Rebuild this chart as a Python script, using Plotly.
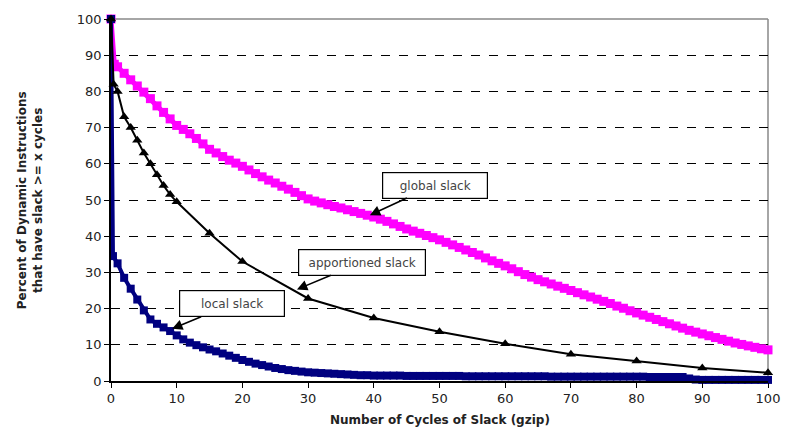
import plotly.graph_objects as go

# ---------------- data ----------------
global_x = [0, 0.5] + list(range(1, 101))
global_y = [100, 87.5,
            86.8, 85.0, 83.2, 81.5, 79.8, 78.0, 76.0, 74.2, 72.4, 70.6,
            69.5, 68.3, 67.0, 65.5, 64.0, 63.0, 62.0, 61.0, 60.2, 59.3,
            58.3, 57.3, 56.4, 55.5, 54.7, 53.8, 53.0, 52.1, 51.2, 50.3,
            49.7, 49.2, 48.7, 48.2, 47.8, 47.3, 46.8, 46.3, 45.8, 45.3,
            44.7, 44.1, 43.4, 42.7, 42.0, 41.4, 40.8, 40.2, 39.6, 39.0,
            38.3, 37.6, 36.9, 36.2, 35.5, 34.8, 34.0, 33.2, 32.5, 31.8,
            31.0, 30.2, 29.4, 28.7, 28.0, 27.4, 26.8, 26.2, 25.6, 25.0,
            24.4, 23.8, 23.2, 22.6, 22.0, 21.4, 20.7, 20.1, 19.4, 18.8,
            18.2, 17.6, 17.0, 16.4, 15.8, 15.2, 14.6, 14.0, 13.5, 13.0,
            12.5, 12.0, 11.5, 11.0, 10.5, 10.1, 9.7, 9.3, 8.9, 8.6]

appor_x = [0, 0.4, 1, 2, 3, 4, 5, 6, 7, 8, 9, 10, 15, 20, 30, 40, 50, 60, 70, 80, 90, 100]
appor_y = [100, 82, 80, 73, 70, 66.5, 63, 60, 57, 54, 51.5, 49.5, 40.8, 33, 22.8,
           17.4, 13.6, 10.3, 7.4, 5.5, 3.6, 2.3]

local_x = [0, 0.3] + list(range(1, 101))
local_y = [100, 34.5,
           32.5, 28.5, 25.5, 22.5, 19.5, 17.0, 15.8, 14.8, 13.8, 12.6,
           11.5, 10.6, 9.9, 9.3, 8.7, 8.2, 7.6, 7.0, 6.4, 5.8,
           5.3, 4.8, 4.4, 4.0, 3.6, 3.3, 3.0, 2.8, 2.6, 2.4,
           2.3, 2.2, 2.1, 2.0, 1.9, 1.8, 1.7, 1.6, 1.6, 1.5,
           1.5, 1.5, 1.5, 1.5, 1.4, 1.4, 1.4, 1.4, 1.4, 1.4,
           1.4, 1.4, 1.4, 1.3, 1.3, 1.3, 1.3, 1.3, 1.3, 1.3,
           1.3, 1.3, 1.3, 1.3, 1.3, 1.3, 1.2, 1.2, 1.2, 1.2,
           1.2, 1.2, 1.2, 1.2, 1.2, 1.2, 1.2, 1.2, 1.2, 1.2,
           1.2, 1.1, 1.1, 1.1, 1.1, 1.1, 1.1, 0.7, 0.4, 0.3,
           0.3, 0.3, 0.3, 0.3, 0.3, 0.3, 0.3, 0.3, 0.3, 0.3]

x_ticks = list(range(0, 101, 10))
y_ticks = list(range(0, 101, 10))

labels = ["global slack", "apportioned slack", "local slack"]
label_tips = [(39.4, 45.8), (28.3, 25.3), (9.3, 14.4)]

FONT = "DejaVu Sans"

fig = go.Figure()

fig.add_trace(go.Scatter(
    x=global_x, y=global_y, mode="lines+markers",
    line=dict(color="#FF00FF", width=5),
    marker=dict(symbol="square", size=9, color="#FF00FF"),
    cliponaxis=False, showlegend=False))

fig.add_trace(go.Scatter(
    x=local_x, y=local_y, mode="lines+markers",
    line=dict(color="#000080", width=4),
    marker=dict(symbol="square", size=8, color="#000080"),
    cliponaxis=False, showlegend=False))

fig.add_trace(go.Scatter(
    x=appor_x, y=appor_y, mode="lines+markers",
    line=dict(color="#000000", width=2),
    marker=dict(symbol="triangle-up", size=9, color="#000000"),
    cliponaxis=False, showlegend=False))

annotations = []
offsets = [(65, -30), (65, -27), (60, -25)]
widths = [98, 120, 98]
for lab, (tx, ty), (ax, ay), w in zip(labels, label_tips, offsets, widths):
    annotations.append(dict(
        x=tx, y=ty, xref="x", yref="y", text=lab, showarrow=True,
        ax=ax, ay=ay, axref="pixel", ayref="pixel",
        arrowhead=2, arrowsize=1.3, arrowwidth=1.6, arrowcolor="#000000",
        bgcolor="#FFFFFF", bordercolor="#000000", borderwidth=1.2,
        borderpad=3, width=w, height=19,
        font=dict(family=FONT, size=12, color="#444444")))

annotations.append(dict(
    text="<b>Percent of Dynamic Instructions<br>that have slack >= x cycles</b>",
    xref="paper", yref="paper", x=-0.123, y=0.5, textangle=-90,
    showarrow=False, xanchor="center", yanchor="middle",
    font=dict(family=FONT, size=12, color="#222222")))
annotations.append(dict(
    text="<b>Number of Cycles of Slack (gzip)</b>",
    xref="paper", yref="paper", x=0.5, y=-0.108,
    showarrow=False, xanchor="center", yanchor="middle",
    font=dict(family=FONT, size=12, color="#222222")))

fig.update_layout(
    width=792, height=446,
    margin=dict(l=111, r=24, t=14, b=65),
    paper_bgcolor="#FFFFFF", plot_bgcolor="#FFFFFF",
    font=dict(family=FONT, color="#222222"),
    annotations=annotations,
    shapes=[
        dict(type="line", xref="paper", yref="paper", x0=0, x1=1, y0=1, y1=1,
             line=dict(color="#888888", width=1.5), layer="between"),
        dict(type="line", xref="paper", yref="paper", x0=1, x1=1, y0=0, y1=1,
             line=dict(color="#888888", width=1.5), layer="between"),
    ],
    xaxis=dict(range=[0, 100], tickvals=x_ticks, ticktext=[str(v) for v in x_ticks],
               showgrid=False, zeroline=False, showline=True, linecolor="#000000",
               linewidth=1.5, ticks="outside", ticklen=5, tickcolor="#000000",
               tickfont=dict(family=FONT, size=13, color="#222222")),
    yaxis=dict(range=[0, 100], tickvals=y_ticks, ticktext=[str(v) for v in y_ticks],
               showgrid=True, gridcolor="#000000", griddash="dash", gridwidth=1,
               zeroline=False, showline=True, linecolor="#000000",
               linewidth=1.5, ticks="outside", ticklen=5, tickcolor="#000000",
               tickfont=dict(family=FONT, size=13, color="#222222")),
)

fig.write_html("out.html")
